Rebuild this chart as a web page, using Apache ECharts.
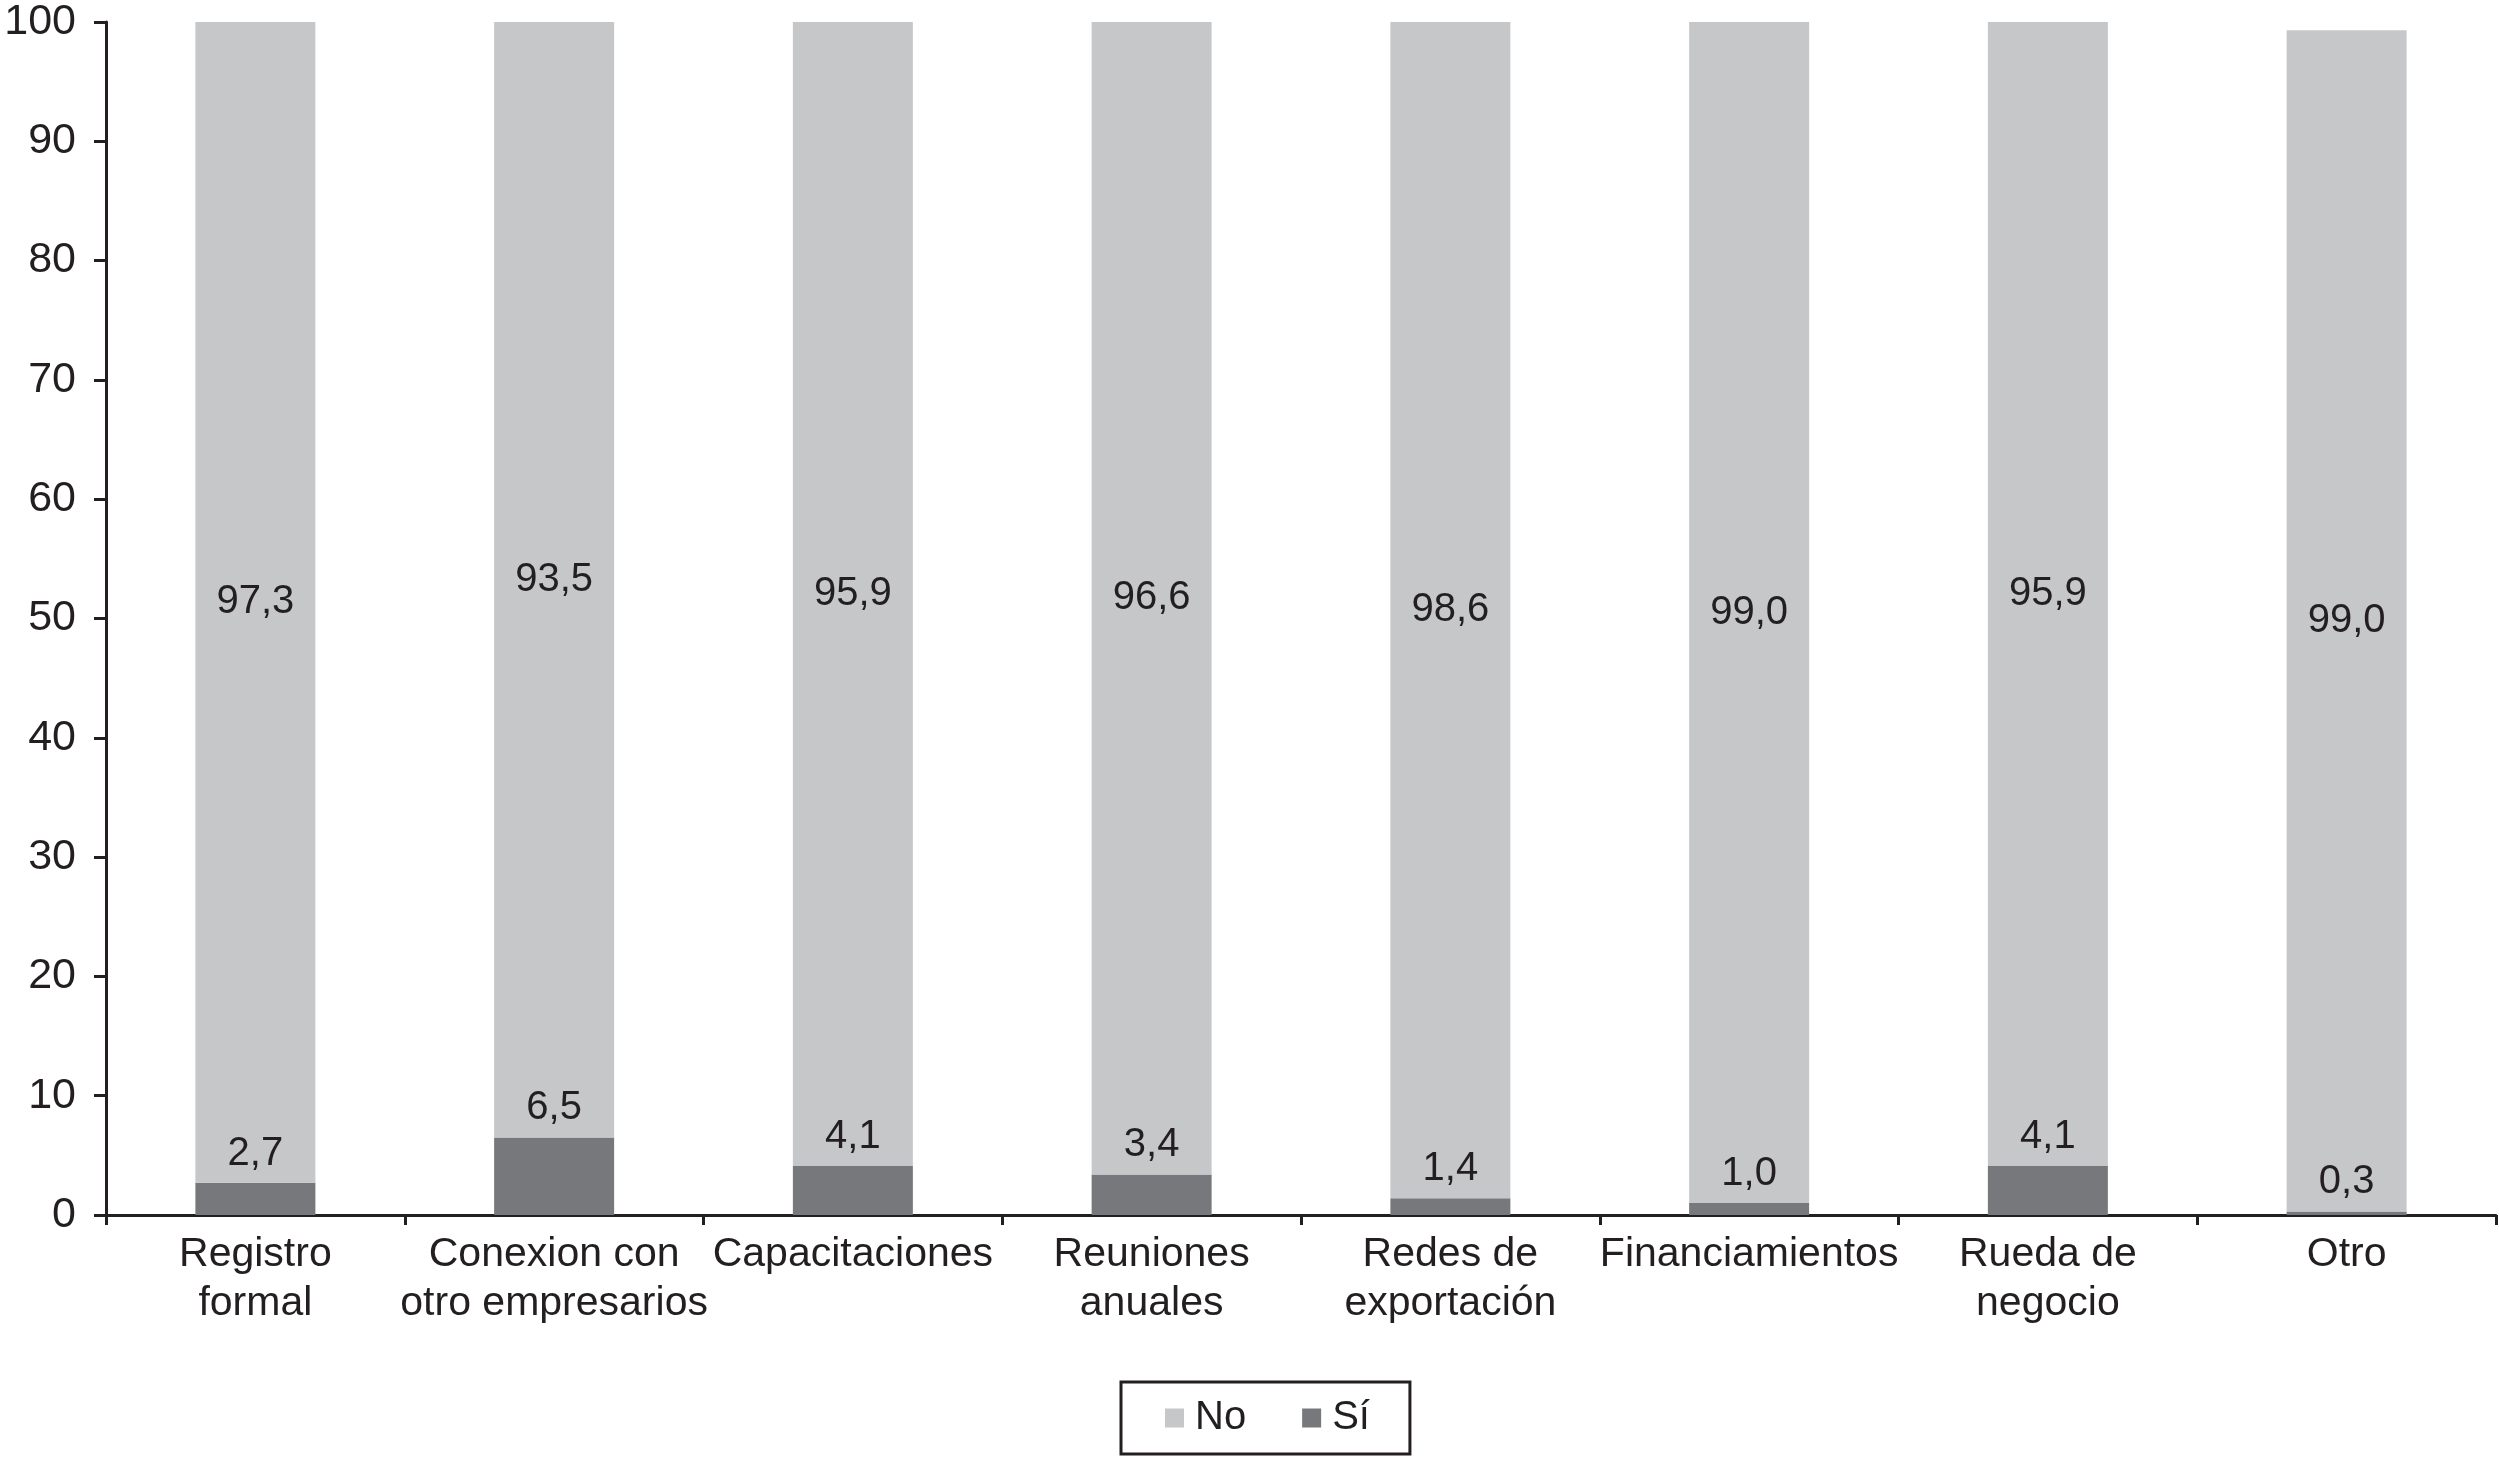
<!DOCTYPE html>
<html>
<head>
<meta charset="utf-8">
<script src="https://cdn.jsdelivr.net/npm/echarts@6/dist/echarts.min.js"></script>
<style>
html,body{margin:0;padding:0;background:#fff;}
#chart{width:2499px;height:1457px;}
</style>
</head>
<body>
<div id="chart"></div>
<script>
const categories = ['Registro\nformal','Conexion con\notro empresarios','Capacitaciones','Reuniones\nanuales','Redes de\nexportación','Financiamientos','Rueda de\nnegocio','Otro'];
const siValues = [2.7, 6.5, 4.1, 3.4, 1.4, 1.0, 4.1, 0.3];
const noValues = [97.3, 93.5, 95.9, 96.6, 98.6, 99.0, 95.9, 99.0];
const yTicks = [0,10,20,30,40,50,60,70,80,90,100];

const FONT = '"Liberation Sans", Arial, sans-serif';
const TXT = '#231f20';
const fmt = p => p.value.toFixed(1).replace('.', ',');

const chart = echarts.init(document.getElementById('chart'));
chart.setOption({
  animation: false,
  backgroundColor: '#ffffff',
  textStyle: { fontFamily: FONT },
  grid: { left: 106, right: 3, top: 22, bottom: 242, containLabel: false },
  legend: {
    data: ['No', 'Sí'],
    left: 1121, top: 1382,
    orient: 'horizontal',
    itemWidth: 19, itemHeight: 19,
    itemGap: 56,
    padding: [15, 40, 15, 44],
    borderColor: TXT, borderWidth: 3,
    icon: 'rect',
    textStyle: { fontFamily: FONT, fontSize: 40, color: TXT, padding: [0,0,0,6], lineHeight: 42 }
  },
  xAxis: {
    type: 'category',
    data: categories,
    axisLine: { lineStyle: { color: TXT, width: 3 } },
    axisTick: { show: true, length: 10, lineStyle: { color: TXT, width: 3 } },
    axisLabel: { interval: 0, fontFamily: FONT, fontSize: 41, color: TXT, lineHeight: 49, margin: 15 }
  },
  yAxis: {
    type: 'value',
    min: 0, max: 100, interval: 10,
    splitLine: { show: false },
    axisLine: { show: true, lineStyle: { color: TXT, width: 3 } },
    axisTick: { show: true, length: 12, lineStyle: { color: TXT, width: 3 } },
    axisLabel: {
      fontFamily: FONT, fontSize: 43, color: TXT, margin: 30,
      formatter: v => yTicks.includes(v) ? String(v) : ''
    }
  },
  series: [
    {
      name: 'Sí', type: 'bar', stack: 'total', barWidth: 120,
      data: siValues,
      itemStyle: { color: '#77787b' },
      label: { show: true, position: 'top', distance: 9, formatter: fmt, fontFamily: FONT, fontSize: 40, color: TXT }
    },
    {
      name: 'No', type: 'bar', stack: 'total', barWidth: 120,
      data: noValues,
      itemStyle: { color: '#c6c7c9' },
      label: { show: true, position: 'inside', formatter: fmt, fontFamily: FONT, fontSize: 40, color: TXT }
    }
  ]
});
</script>
</body>
</html>
